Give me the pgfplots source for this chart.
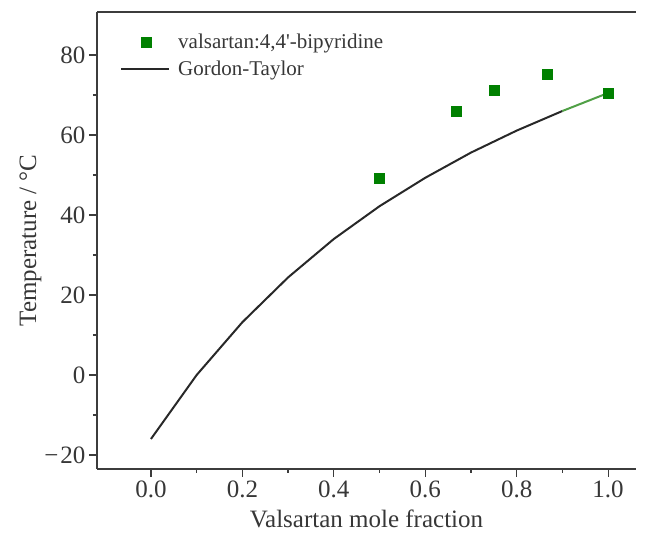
\documentclass[border=0pt]{standalone}
\usepackage{pgfplots}
\pgfplotsset{compat=1.18}
\usepackage{fontspec}
\setmainfont{Liberation Serif}
\definecolor{mkgreen}{RGB}{0,128,0}
\definecolor{lngreen}{RGB}{80,160,70}
\definecolor{txt}{RGB}{55,55,55}
\definecolor{axc}{RGB}{60,60,60}
\definecolor{curve}{RGB}{40,40,40}
\pgfplotsset{
  gtlegend/.style={legend image code/.code={\path[draw=none] (0pt,0pt) -- (55pt,0pt); \draw[##1] (0pt,0pt) -- (48pt,0pt);}},
  sqlegend/.style={legend image code/.code={\path[draw=none] (0pt,0pt) -- (55pt,0pt); \draw[##1] plot coordinates {(25pt,0pt)};}}
}
\begin{document}
\begin{tikzpicture}
\useasboundingbox (0,0) rectangle (649pt,536pt);
\begin{axis}[
  at={(97pt,67pt)}, anchor=south west,
  width=539pt, height=457pt, scale only axis,
  xmin=-0.118, xmax=1.061, ymin=-23.5, ymax=90.75,
  axis x line*=bottom, axis y line*=left,
  axis line style={axc, line width=1.4pt, -},
  xtick={0,0.2,...,1.0}, minor xtick={0.1,0.3,...,0.9},
  ytick={-20,0,20,40,60,80}, minor ytick={-10,10,...,70},
  yticklabels={−\kern2pt20,0,20,40,60,80},
  tick align=outside,
  major tick length=8pt, minor tick length=4pt,
  every tick/.style={axc, line width=1.2pt},
  /pgf/number format/assume math mode=true,
  xticklabel style={/pgf/number format/fixed, /pgf/number format/fixed zerofill, /pgf/number format/precision=1},
  ticklabel style={font=\fontsize{25}{28}\selectfont, text=txt},
  xlabel={Valsartan mole fraction},
  ylabel={Temperature / °C},
  label style={font=\fontsize{25}{28}\selectfont, text=txt},
  xlabel style={yshift=-6pt},
  ylabel style={yshift=-4pt},
  legend style={draw=none, fill=none,
    at={(rel axis cs:0,1)}, anchor=north west, xshift=20pt, yshift=-18pt,
    font=\fontsize{21}{24}\selectfont, text=txt, row sep=7pt},
  legend cell align=left,
  clip=false,
]
\draw[axc, line width=1.4pt] (rel axis cs:0,1) -- (rel axis cs:1,1);
\addplot[only marks, mark=square*, mark size=5pt, mkgreen, sqlegend] coordinates {
  (0.5,49.2) (0.667,66) (0.75,71.2) (0.867,75.1) (1.0,70.5)
};
\addlegendentry{valsartan:4,4\textquotesingle-bipyridine}
\addplot[curve, line width=2pt, mark=none, gtlegend] coordinates {
  (0,-16) (0.1,0) (0.2,13.2) (0.3,24.4) (0.4,34) (0.5,42.2) (0.6,49.3) (0.7,55.6) (0.8,61.1) (0.9,66)
};
\addlegendentry{Gordon-Taylor}
\addplot[lngreen, line width=2pt, mark=none, forget plot] coordinates {
  (0.9,66) (1.0,70.5)
};
\end{axis}
\end{tikzpicture}
\end{document}
